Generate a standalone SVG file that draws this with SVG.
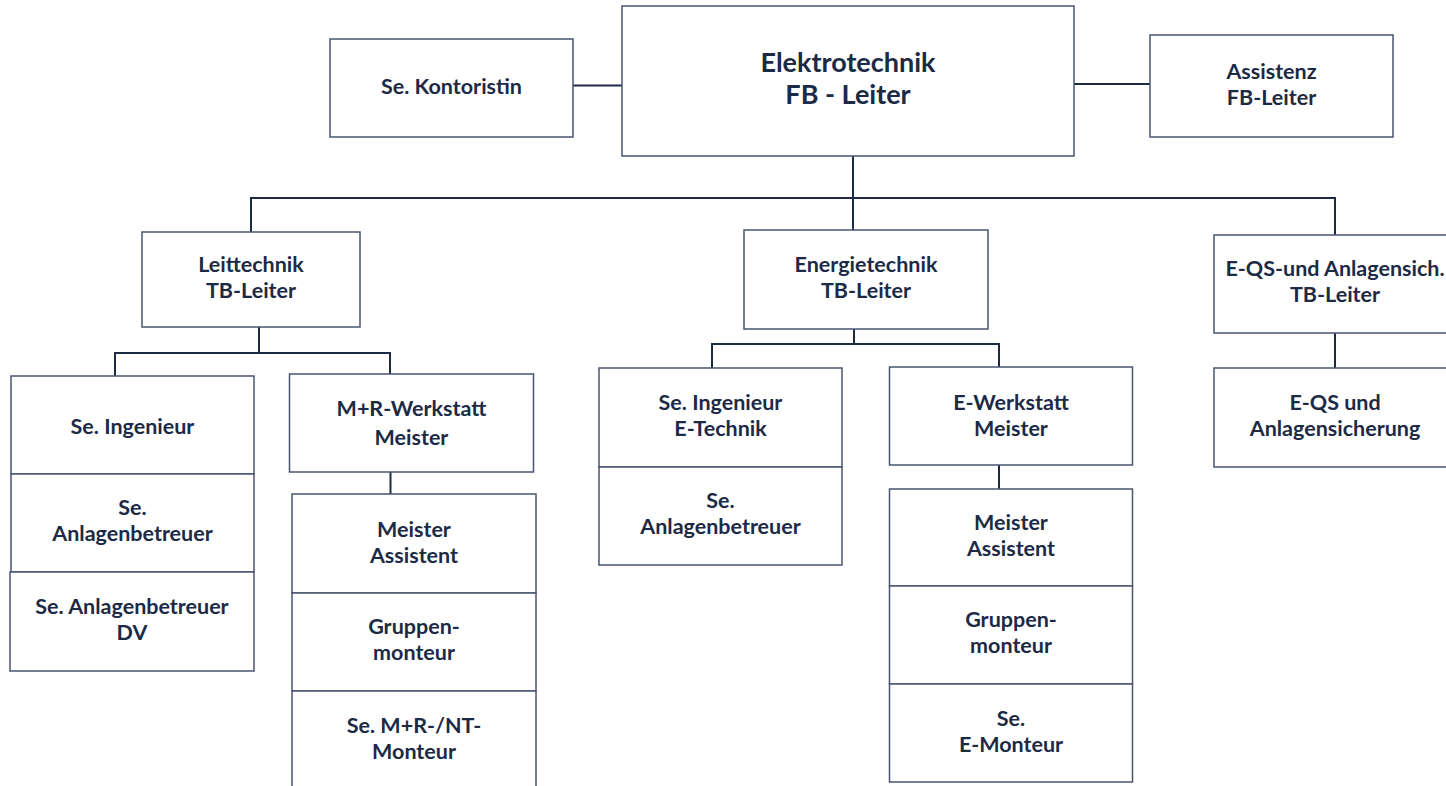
<svg xmlns="http://www.w3.org/2000/svg" width="1446" height="786" viewBox="0 0 1446 786">
<style>
.box{fill:#ffffff;stroke:#4a5470;stroke-width:1.5}
.t{font-family:Lato,"Liberation Sans",sans-serif;font-weight:bold;font-size:21.5px;fill:#1c2a46;text-anchor:middle}
.big{font-size:27px}
.c{fill:none;stroke:#1c2a46;stroke-width:2}
</style>
<rect width="1446" height="786" fill="#ffffff"/>
<g id="connectors">
<path class="c" d="M573 85.5H622"/>
<path class="c" d="M1074 84H1150"/>
<path class="c" d="M853 156V198M251 232V198H1335V235M853 198V230"/>
<path class="c" d="M259 327V353M115 376V353H390V374"/>
<path class="c" d="M390.5 472V494"/>
<path class="c" d="M854 329V344M712 368V344H999V367"/>
<path class="c" d="M999 465V489"/>
<path class="c" d="M1335 333V368"/>
</g>
<g id="n-kontoristin"><rect class="box" x="330" y="39" width="243" height="98"/><text class="t" x="451.5" y="94">Se. Kontoristin</text></g>
<g id="n-elektro"><rect class="box" x="622" y="6" width="452" height="150"/><text class="t big" x="848" y="72">Elektrotechnik</text><text class="t big" x="848" y="104">FB - Leiter</text></g>
<g id="n-assistenz"><rect class="box" x="1150" y="35" width="243" height="102"/><text class="t" x="1271.5" y="79">Assistenz</text><text class="t" x="1271.5" y="105">FB-Leiter</text></g>
<g id="n-leittechnik"><rect class="box" x="142" y="232" width="218" height="95"/><text class="t" x="251" y="272">Leittechnik</text><text class="t" x="251" y="298">TB-Leiter</text></g>
<g id="n-energie"><rect class="box" x="744" y="230" width="244" height="99"/><text class="t" x="866" y="272">Energietechnik</text><text class="t" x="866" y="298">TB-Leiter</text></g>
<g id="n-eqs-tb"><rect class="box" x="1214" y="235" width="242" height="98"/><text class="t" x="1335" y="276">E-QS-und Anlagensich.</text><text class="t" x="1335" y="302">TB-Leiter</text></g>
<g id="n-se-ing-l"><rect class="box" x="11" y="376" width="243" height="98"/><text class="t" x="132.5" y="434">Se. Ingenieur</text></g>
<g id="n-se-anl-l"><rect class="box" x="11" y="474" width="243" height="98"/><text class="t" x="132.5" y="515">Se.</text><text class="t" x="132.5" y="541">Anlagenbetreuer</text></g>
<g id="n-se-anl-dv"><rect class="box" x="10" y="572" width="244" height="99"/><text class="t" x="132" y="614">Se. Anlagenbetreuer</text><text class="t" x="132" y="640">DV</text></g>
<g id="n-mr"><rect class="box" x="289.5" y="374" width="244" height="98"/><text class="t" x="411.5" y="416">M+R-Werkstatt</text><text class="t" x="411.5" y="445">Meister</text></g>
<g id="n-mr-ma"><rect class="box" x="292" y="494" width="244" height="99"/><text class="t" x="414" y="537">Meister</text><text class="t" x="414" y="563">Assistent</text></g>
<g id="n-mr-gm"><rect class="box" x="292" y="593" width="244" height="98"/><text class="t" x="414" y="634">Gruppen-</text><text class="t" x="414" y="660">monteur</text></g>
<g id="n-mr-mon"><rect class="box" x="292" y="691" width="244" height="100"/><text class="t" x="414" y="733">Se. M+R-/NT-</text><text class="t" x="414" y="759">Monteur</text></g>
<g id="n-se-ing-e"><rect class="box" x="599" y="368" width="243" height="99"/><text class="t" x="720.5" y="410">Se. Ingenieur</text><text class="t" x="720.5" y="436">E-Technik</text></g>
<g id="n-se-anl-e"><rect class="box" x="599" y="467" width="243" height="98"/><text class="t" x="720.5" y="508">Se.</text><text class="t" x="720.5" y="534">Anlagenbetreuer</text></g>
<g id="n-ew"><rect class="box" x="889.5" y="367" width="243" height="98"/><text class="t" x="1011" y="410">E-Werkstatt</text><text class="t" x="1011" y="436">Meister</text></g>
<g id="n-ew-ma"><rect class="box" x="889.5" y="489" width="243" height="97"/><text class="t" x="1011" y="530">Meister</text><text class="t" x="1011" y="556">Assistent</text></g>
<g id="n-ew-gm"><rect class="box" x="889.5" y="586" width="243" height="98"/><text class="t" x="1011" y="627">Gruppen-</text><text class="t" x="1011" y="653">monteur</text></g>
<g id="n-ew-mon"><rect class="box" x="889.5" y="684" width="243" height="98"/><text class="t" x="1011" y="726">Se.</text><text class="t" x="1011" y="752">E-Monteur</text></g>
<g id="n-eqs"><rect class="box" x="1214" y="368" width="242" height="99"/><text class="t" x="1335" y="410">E-QS und</text><text class="t" x="1335" y="436">Anlagensicherung</text></g>
</svg>
